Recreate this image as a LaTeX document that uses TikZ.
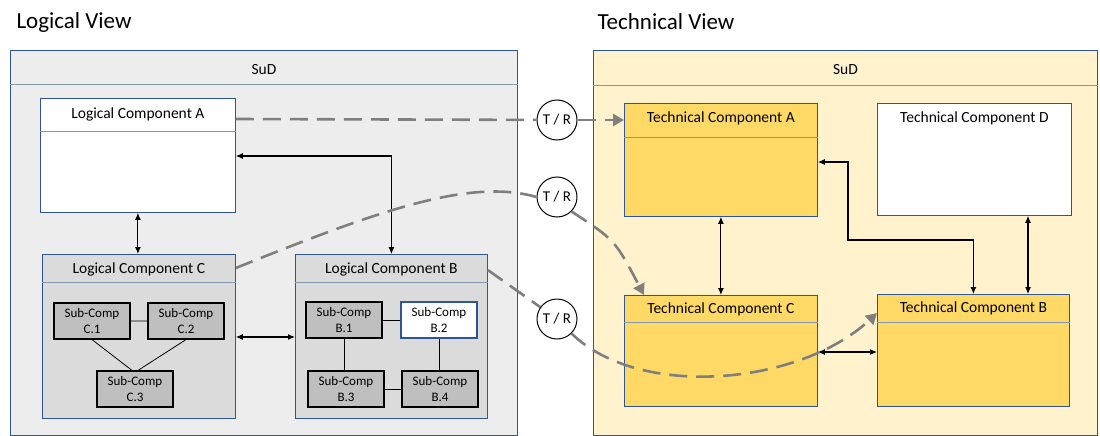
\documentclass[tikz,border=0pt]{standalone}
\usepackage{fontspec}
\setmainfont{Carlito}
\usetikzlibrary{calc,arrows.meta}

\definecolor{sudgray}{HTML}{EDEDED}
\definecolor{compgray}{HTML}{DBDBDB}
\definecolor{subgray}{HTML}{BFBFBF}
\definecolor{sudyellow}{HTML}{FFF2CC}
\definecolor{compyellow}{HTML}{FFD966}
\definecolor{boxblue}{HTML}{2F5597}
\definecolor{sepblue}{HTML}{8497B0}
\definecolor{tracegray}{HTML}{7F7F7F}

\begin{document}
\begin{tikzpicture}[x=1pt, y=-1pt,
  box/.style={draw=boxblue, line width=0.8pt, anchor=north west, inner sep=0pt},
  sep/.style={sepblue, line width=0.7pt},
  ttl/.style={font=\fontsize{15.5}{18}\selectfont, anchor=center},
  sub/.style={draw, line width=1.2pt, fill=subgray, align=center, minimum width=76pt,
    minimum height=36pt, inner sep=0pt, font=\fontsize{13}{16.5}\selectfont},
  tr/.style={circle, draw, line width=1pt, fill=white, minimum size=40pt, inner sep=0pt,
    font=\fontsize{15}{18}\selectfont},
  link/.style={line width=1.1pt, {Latex[length=7pt,width=6pt]}-{Latex[length=7pt,width=6pt]}},
  trace/.style={tracegray, line width=2.6pt, dash pattern=on 18pt off 9pt},
  tip/.style={-{Triangle[length=11pt,width=12pt]}}]

\useasboundingbox (0,0) rectangle (1100,436);

\node[anchor=west, font=\fontsize{23}{27}\selectfont] (tlog) at (13,22) {Logical View};
\node[anchor=west, font=\fontsize{23}{27}\selectfont] (ttech) at (594,22) {Technical View};

% logical view
\node[box, fill=sudgray, minimum width=507pt, minimum height=385pt] (LSuD) at (10,50) {};
\draw[sep] ([yshift=-34pt]LSuD.north west) -- ([yshift=-34pt]LSuD.north east);
\node[ttl] at ([yshift=-20pt]LSuD.north) {SuD};

\node[box, fill=white, minimum width=195pt, minimum height=114pt] (LA) at (40,98) {};
\draw[sep] ([yshift=-33pt]LA.north west) -- ([yshift=-33pt]LA.north east);
\node[ttl] at ([yshift=-16pt]LA.north) {Logical Component A};

\node[box, fill=compgray, minimum width=193pt, minimum height=164pt] (LC) at (42,254) {};
\draw[sep] ([yshift=-28pt]LC.north west) -- ([yshift=-28pt]LC.north east);
\node[ttl] at ([yshift=-15pt]LC.north) {Logical Component C};

\node[box, fill=compgray, minimum width=192pt, minimum height=164pt] (LB) at (295,254) {};
\draw[sep] ([yshift=-28pt]LB.north west) -- ([yshift=-28pt]LB.north east);
\node[ttl] at ([yshift=-15pt]LB.north) {Logical Component B};

\node[sub] (C1) at (92,321) {Sub-Comp\\C.1};
\node[sub] (C2) at (186,321) {Sub-Comp\\C.2};
\node[sub] (C3) at (135,389) {Sub-Comp\\C.3};
\draw[line width=0.8pt] (C1) -- (C2) (C1.south) -- ([xshift=-3pt]C3.north)
  (C2.south) -- ([xshift=3pt]C3.north);

\node[sub] (B1) at (344,320) {Sub-Comp\\B.1};
\node[sub, fill=white, draw=boxblue] (B2) at (439,320) {Sub-Comp\\B.2};
\node[sub] (B3) at (346,389) {Sub-Comp\\B.3};
\node[sub] (B4) at (440,389) {Sub-Comp\\B.4};
\draw[line width=0.8pt] (B1) -- (B2) (B3) -- (B4) (B1.south) -- (B1.south |- B3.north)
  (B2.south) -- (B2.south |- B4.north);

\draw[link] (LA.south) -- (LA.south |- LC.north);
\draw[link] ([yshift=-58pt]LA.north east) -| (LB.north);
\draw[link] ([yshift=-83pt]LC.north east) -- ([yshift=-83pt]LB.north west);

% technical view
\node[box, fill=sudyellow, minimum width=504pt, minimum height=385pt] (TSuD) at (593,50) {};
\draw[sep] ([yshift=-35pt]TSuD.north west) -- ([yshift=-35pt]TSuD.north east);
\node[ttl] at ([yshift=-20pt]TSuD.north) {SuD};

\node[box, fill=compyellow, minimum width=193pt, minimum height=113pt] (TA) at (624,103) {};
\draw[sep] ([yshift=-34pt]TA.north west) -- ([yshift=-34pt]TA.north east);
\node[ttl] at ([yshift=-15pt]TA.north) {Technical Component A};

\node[box, fill=white, minimum width=194pt, minimum height=112pt] (TD) at (877,103) {};
\node[ttl] at ([yshift=-15pt]TD.north) {Technical Component D};

\node[box, fill=compyellow, minimum width=193pt, minimum height=111pt] (TC) at (624,295) {};
\draw[sep] ([yshift=-27pt]TC.north west) -- ([yshift=-27pt]TC.north east);
\node[ttl] at ([yshift=-14pt]TC.north) {Technical Component C};

\node[box, fill=compyellow, minimum width=192pt, minimum height=112pt] (TB) at (877,294) {};
\draw[sep] ([yshift=-28pt]TB.north west) -- ([yshift=-28pt]TB.north east);
\node[ttl] at ([yshift=-14pt]TB.north) {Technical Component B};

\coordinate (bend) at (848,240);
\draw[link] (TA.south) -- (TA.south |- TC.north);
\draw[link] ([yshift=-59pt]TA.north east) -| (bend) -| (TB.north);
\draw[link] ([xshift=151pt]TD.south west) -- ([xshift=151pt]TB.north west);
\draw[link] ([yshift=-57pt]TC.north east) -- ([yshift=-57pt]TC.north east -| TB.west);

% trace links
\node[tr] (TR1) at (557,120) {T / R};
\node[tr] (TR2) at (557,197) {T / R};
\node[tr] (TR3) at (557,319) {T / R};

\draw[trace] ([yshift=-21pt]LA.north east) -- (TR1);
\draw[trace, tip] (TR1) -- ([yshift=-17pt]TA.north west);
\draw[trace] ([yshift=-14pt]LC.north east) .. controls (380,210) and (470,178) .. (TR2.west);
\draw[trace, tip] (TR2.south east) .. controls (615,240) .. ([xshift=20pt]TC.north west);
\draw[trace] ([yshift=-16pt]LB.north east) -- (TR3);
\draw[trace, tip] (TR3.south east) .. controls (640,400) and (800,385) .. ([yshift=-19pt]TB.north west);

\end{tikzpicture}
\end{document}
